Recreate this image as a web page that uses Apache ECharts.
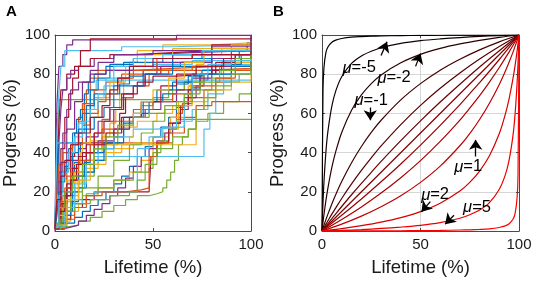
<!DOCTYPE html>
<html><head><meta charset="utf-8">
<script src="https://cdn.jsdelivr.net/npm/echarts@6/dist/echarts.min.js"></script>
<style>html,body{margin:0;padding:0;background:#fff}#c{width:536px;height:282px}</style>
</head><body><div id="c"></div>
<script>
// ---------- Panel A: individual progress curves [lifetime %, progress %] ----------
const B1=[[0,1],[3,2],[6,4],[10,7],[14,10],[18,13],[22,16],[26,20],[30,24],[34,28],[38,33],[42,38],[46,43],[50,48],[54,53],[58,58],[62,63],[66,68],[70,73],[74,77],[78,80],[82,82],[86,85],[90,88],[94,92],[98,96],[100,98]];
const B2=[[0,2],[1,12],[3,25],[5,33],[7,42],[9,50],[11,57],[13,62],[15,70],[17,76],[20,80],[26,84],[35,86],[55,88],[75,90],[90,93],[100,96]];
const B3=[[0,3],[2,10],[5,20],[8,28],[10,35],[13,45],[16,52],[20,58],[25,63],[30,70],[33,75],[38,79],[45,82],[60,84],[80,87],[95,90],[100,92]];
const B4=[[0,1],[2,45],[8,45],[10,50],[14,60],[18,72],[22,78],[28,85],[40,88],[60,90],[80,92],[100,95]];
const B5=[[0,2],[4,8],[8,15],[12,22],[16,30],[20,36],[25,42],[30,48],[35,55],[40,60],[48,66],[55,70],[62,75],[68,79],[75,82],[85,85],[95,88],[100,90]];
const B6=[[0,1],[3,4],[6,10],[9,20],[12,28],[15,35],[18,40],[25,45],[35,58],[45,66],[52,72],[60,76],[70,80],[90,84],[100,86]];
const B7=[[0,1],[1,8],[2,20],[4,30],[6,36],[9,40],[12,52],[16,64],[20,70],[30,74],[45,80],[60,88],[80,92],[100,94]];
const O1=[[0,2],[2,10],[4,18],[6,28],[8,40],[10,50],[12,58],[14,65],[16,72],[18,78],[22,82],[40,83],[60,84],[85,86],[100,88]];
const O2=[[0,1],[3,8],[6,18],[10,28],[15,36],[20,42],[24,45],[56,46],[58,52],[62,60],[65,65],[70,68],[76,72],[82,76],[90,80],[100,84]];
const O3=[[0,3],[4,12],[8,22],[12,30],[16,40],[20,50],[24,57],[28,62],[34,68],[40,74],[48,80],[58,82],[75,83],[100,85]];
const O4=[[0,2],[3,20],[6,32],[9,44],[12,56],[15,65],[20,72],[26,76],[34,80],[45,82],[70,84],[100,90]];
const O5=[[0,1],[5,6],[10,12],[16,18],[24,20],[36,21],[44,22],[48,38],[52,45],[60,50],[66,58],[72,64],[80,66],[100,66]];
const O6=[[0,2],[2,15],[5,22],[8,30],[12,36],[18,44],[24,52],[30,56],[40,62],[50,66],[60,70],[70,74],[82,78],[92,82],[100,86]];
const O7=[[0,2],[1,18],[2,34],[4,40],[8,44],[14,54],[18,60],[22,66],[26,70],[32,78],[40,82],[52,88],[70,90],[100,93]];
const Y1=[[0,4],[4,10],[8,18],[12,26],[16,34],[20,42],[24,48],[28,55],[31,62],[33,70],[35,78],[38,86],[42,92],[55,95],[80,96],[100,98]];
const Y2=[[0,2],[5,15],[10,25],[15,32],[22,38],[30,42],[40,45],[50,48],[58,52],[63,58],[66,66],[69,76],[72,85],[76,90],[85,93],[100,95]];
const Y3=[[0,1],[4,5],[8,10],[12,14],[16,18],[22,22],[30,26],[38,30],[44,36],[50,44],[55,50],[59,58],[63,66],[68,74],[75,80],[85,86],[100,92]];
const Y4=[[0,3],[3,14],[6,26],[9,34],[13,40],[18,46],[25,50],[32,53],[42,56],[52,60],[60,64],[70,66],[78,72],[86,76],[94,80],[100,84]];
const Y5=[[0,2],[4,12],[8,22],[12,30],[16,36],[20,40],[24,44],[70,44],[72,62],[76,68],[82,72],[90,76],[100,80]];
const Y6=[[0,1],[2,8],[5,16],[10,30],[14,45],[18,58],[22,68],[28,76],[36,84],[46,90],[60,93],[100,96]];
const Y7=[[0,3],[6,16],[12,26],[18,34],[26,40],[34,44],[38,48],[40,60],[44,66],[50,72],[58,78],[66,86],[76,92],[90,95],[100,97]];
const P1=[[0,0],[0.5,40],[1,65],[2,84],[4,90],[6,95],[9,97.5],[58,97.5],[62,100],[100,100]];
const P2=[[0,1],[1,20],[2,45],[3,62],[4,72],[6,78],[8,82],[12,84],[20,88],[30,90],[45,91],[70,92],[100,94]];
const P3=[[0,1],[4,2],[8,3],[12,5],[16,8],[20,11],[24,14],[28,18],[32,22],[36,27],[40,33],[44,38],[48,42],[52,46],[56,50],[60,55],[64,62],[68,68],[72,74],[76,80],[80,84],[86,87],[92,90],[100,93]];
const P4=[[0,2],[3,10],[6,22],[9,36],[12,42],[16,48],[22,56],[28,63],[34,70],[40,74],[46,80],[52,86],[60,90],[75,92],[100,95]];
const P5=[[0,1],[2,8],[5,18],[8,26],[12,34],[16,40],[22,46],[30,52],[38,58],[46,62],[54,66],[62,72],[70,78],[80,84],[90,90],[100,93]];
const P6=[[0,3],[2,30],[4,50],[6,62],[8,72],[12,76],[18,80],[26,82],[40,84],[60,86],[80,88],[100,91]];
const P7=[[0,1],[1,15],[3,35],[6,52],[10,66],[14,76],[18,82],[22,86],[30,90],[50,92],[80,94],[100,100]];
const G1=[[0,3],[1,30],[2,67],[56,67],[60,72],[66,76],[74,80],[84,84],[92,88],[100,91]];
const G2=[[0,2],[6,3],[12,5],[18,7],[24,10],[30,13],[36,16],[42,18],[48,19],[52,20],[55,22],[57,26],[59,30],[61,36],[63,44],[65,48],[68,52],[72,56],[78,60],[86,66],[94,70],[100,71]];
const G3=[[0,1],[5,8],[10,14],[16,19],[22,22],[30,26],[40,30],[48,32],[50,40],[54,46],[58,52],[62,57],[100,57]];
const G4=[[0,4],[4,12],[8,20],[14,28],[20,36],[26,44],[32,52],[38,58],[44,64],[50,68],[58,72],[66,76],[76,80],[86,84],[100,88]];
const G5=[[0,2],[4,10],[8,16],[14,22],[22,28],[30,36],[38,44],[44,50],[50,56],[56,62],[62,66],[70,72],[80,78],[90,84],[100,90]];
const G6=[[0,1],[3,6],[6,10],[10,14],[18,16],[28,18],[38,20],[42,26],[46,34],[52,42],[60,48],[68,52],[72,62],[76,68],[82,74],[90,80],[100,86]];
const G7=[[0,2],[2,12],[5,20],[9,28],[14,34],[20,42],[26,48],[32,54],[40,58],[48,60],[56,64],[66,70],[74,76],[84,82],[92,88],[100,92]];
const C1=[[0,5],[1,50],[2,70],[3,84],[5,92],[30,92],[34,94],[60,95],[100,97]];
const C2=[[0,2],[3,12],[6,25],[9,38],[12,50],[15,62],[18,72],[21,77],[100,77]];
const C3=[[0,3],[5,12],[10,22],[15,30],[20,38],[74,38],[76,52],[79,60],[82,72],[86,80],[92,85],[100,88]];
const C4=[[0,2],[4,8],[8,14],[14,18],[20,20],[40,20],[42,42],[48,48],[55,53],[62,56],[70,62],[78,70],[86,76],[94,80],[100,84]];
const C5=[[0,2],[1,45],[10,45],[12,55],[16,62],[20,68],[25,74],[30,78],[38,82],[50,85],[70,87],[100,90]];
const C6=[[0,2],[5,12],[10,24],[16,34],[22,42],[30,48],[40,52],[52,53],[64,53],[66,70],[70,80],[78,85],[90,88],[100,90]];
const C7=[[0,2],[2,18],[4,30],[7,40],[10,48],[14,56],[18,62],[22,70],[26,78],[30,84],[40,88],[55,90],[75,92],[100,95]];
const R1=[[0,2],[1,30],[2,55],[3,72],[6,80],[10,84],[13,92],[18,98],[100,98.5]];
const R2=[[0,2],[2,8],[4,14],[6,22],[8,38],[10,45],[26,45],[30,52],[33,60],[36,68],[40,74],[46,80],[54,84],[64,86],[80,88],[100,92]];
const R3=[[0,1],[4,6],[8,12],[14,16],[20,20],[48,20],[49,38],[52,45],[58,55],[64,64],[68,72],[74,80],[82,86],[92,90],[100,95]];
const R4=[[0,3],[1,25],[3,42],[5,58],[7,70],[9,78],[12,84],[18,88],[28,90],[40,91],[60,92],[80,95],[100,100]];
const R5=[[0,2],[3,14],[6,24],[9,32],[12,38],[16,44],[20,50],[25,56],[30,62],[35,70],[42,76],[50,79],[62,80],[80,82],[100,86]];
const R6=[[0,1],[2,10],[5,18],[8,26],[11,34],[14,40],[20,44],[26,50],[34,58],[44,66],[54,74],[62,80],[72,84],[86,88],[100,92]];
const R7=[[0,1],[1,16],[3,28],[5,36],[8,44],[12,50],[18,58],[24,64],[28,72],[32,78],[38,84],[50,88],[70,90],[100,96]];

// ---------- Panel B: model curves ----------
const xUpper=[0,0.5,1,2,3,5,7,10,15,20,25,30,40,50,60,70,80,90,100];
const xLower=[0,10,20,30,40,50,60,70,75,80,85,90,93,95,97,98,99,99.5,100];
const xDiag=[0,100];
const yB01=[0,71.5,83.5,91.1,93.9,96.3,97.4,98.2,98.9,99.2,99.4,99.5,99.7,99.8,99.87,99.91,99.95,99.98,100];
const yB02=[0,14.3,25.2,40.5,50.8,63.7,71.5,78.7,85.5,89.3,91.7,93.5,95.7,97.1,98.0,98.7,99.3,99.7,100]; // mu=-5
const yB03=[0,4.4,8.4,15.6,21.9,32.4,40.6,50.3,61.6,69.4,75.2,79.6,85.8,90.1,93.2,95.5,97.3,98.8,100]; // mu=-2
const yB04=[0,1.5,3.0,5.8,8.6,13.8,18.6,25.2,34.8,43.1,50.3,56.5,66.9,75.2,82.0,87.6,92.4,96.5,100]; // mu=-1
const yB05=[0,0.9,1.8,3.5,5.2,8.6,11.8,16.6,24.0,30.9,37.3,43.4,54.3,64.1,72.8,80.6,87.7,94.1,100];
const yB06=[0,0.6,1.3,2.5,3.8,6.3,8.8,12.5,18.5,24.3,29.9,35.5,46.1,56.2,65.8,74.9,83.7,92.0,100];
const yB07=[0,100];
const yB08=[0,8.0,16.3,25.1,34.2,43.8,53.9,64.5,70.1,75.7,81.5,87.5,91.2,93.7,96.2,97.5,98.7,99.4,100];
const yB09=[0,5.9,12.3,19.4,27.2,35.9,45.7,56.6,62.7,69.1,76.0,83.4,88.2,91.4,94.8,96.5,98.2,99.1,100];
const yB10=[0,3.5,7.6,12.4,18.0,24.8,33.1,43.5,49.7,56.9,65.2,74.8,81.4,86.2,91.4,94.2,97.0,98.5,100]; // mu=1
const yB11=[0,1.2,2.7,4.5,6.8,9.9,14.2,20.4,24.8,30.6,38.4,49.7,59.4,67.6,78.1,84.4,91.6,95.6,100]; // mu=2
const yB12=[0,0.3,0.7,1.3,2.0,2.9,4.3,6.5,8.3,10.7,14.5,21.3,28.5,36.3,49.2,59.5,74.8,85.7,100]; // mu=5
const yB13=[0,0.02,0.05,0.09,0.13,0.2,0.3,0.5,0.6,0.8,1.1,1.8,2.6,3.7,6.1,8.9,16.5,28.5,100];

// annotation arrows [tailX, tailY, headX, headY] and labels [mu text, x, y]
const arrowsB=[[30,89.5,33,96.5],[47.5,84,50,90.5],[24.5,63,24.5,56.5],[78,38,78,46.5],[55,15,50.5,9.8],[67,8,62.5,3.5]];
const labelsB=[['-5',18.9,83.2],['-2',36.6,78.1],['-1',25,66.8],['1',74.2,32.7],['2',57.4,18.4],['5',78.7,12.2]];

const xTicks=[0,50,100];
const yTicks=[0,20,40,60,80,100];

// ---------- build ----------
const curvesA=[B1,O1,Y1,P1,G1,C1,R1,B2,O2,Y2,P2,G2,C2,R2,B3,O3,Y3,P3,G3,C3,R3,B4,O4,Y4,P4,G4,C4,R4,B5,O5,Y5,P5,G5,C5,R5,B6,O6,Y6,P6,G6,C6,R6,B7,O7,Y7,P7,G7,C7,R7];
const colorsA=['#0072BD','#D95319','#EDB120','#7E2F8E','#77AC30','#4DBEEE','#A2142F'];
const curvesB=[[xUpper,yB01],[xUpper,yB02],[xUpper,yB03],[xUpper,yB04],[xUpper,yB05],[xUpper,yB06],[xDiag,yB07],[xLower,yB08],[xLower,yB09],[xLower,yB10],[xLower,yB11],[xLower,yB12],[xLower,yB13]];

const FONT='"Liberation Sans", Arial, sans-serif';
const axisCol='#4a4a4a';
function xAx(grid,pos,main){
  return {type:'value',gridIndex:grid,position:pos,min:0,max:100,interval:50,
    axisLine:{show:true,onZero:false,lineStyle:{color:axisCol,width:1}},
    axisTick:{show:true,inside:true,length:3,lineStyle:{color:axisCol}},
    axisLabel:{show:main,margin:6,color:'#1a1a1a',fontSize:15,fontFamily:FONT,
      formatter:v=>xTicks.includes(v)?String(v):''},
    splitLine:{show:(main&&grid===1),lineStyle:{color:'#d6d6d6',width:1}},
    name:main?'Lifetime (%)':'',nameLocation:'middle',nameGap:27,
    nameTextStyle:{fontSize:18.5,color:'#1a1a1a',fontFamily:FONT}};
}
function yAx(grid,pos,main){
  return {type:'value',gridIndex:grid,position:pos,min:0,max:100,interval:20,
    axisLine:{show:true,onZero:false,lineStyle:{color:axisCol,width:1}},
    axisTick:{show:true,inside:true,length:3,lineStyle:{color:axisCol}},
    axisLabel:{show:main,margin:5,color:'#1a1a1a',fontSize:15,fontFamily:FONT,
      formatter:v=>yTicks.includes(v)?String(v):''},
    splitLine:{show:(main&&grid===1),lineStyle:{color:'#d6d6d6',width:1}},
    name:main?'Progress (%)':'',nameLocation:'middle',nameGap:35,
    nameTextStyle:{fontSize:18.5,color:'#1a1a1a',fontFamily:FONT}};
}
const series=[];
curvesA.forEach((d,i)=>{
  series.push({type:'line',xAxisIndex:0,yAxisIndex:0,data:d,step:'end',showSymbol:false,
    lineStyle:{width:1.2,color:colorsA[i%7]},silent:true});
});
curvesB.forEach((c,i)=>{
  const r=Math.round(255*i/(curvesB.length-1));
  series.push({type:'line',xAxisIndex:2,yAxisIndex:2,data:c[0].map((x,j)=>[x,c[1][j]]),
    showSymbol:false,smooth:0.3,lineStyle:{width:1.2,color:`rgb(${r},0,0)`},silent:true});
});
series.push({type:'line',xAxisIndex:2,yAxisIndex:2,data:[],silent:true,
  markLine:{silent:true,symbol:['none','arrow'],symbolSize:10,animation:false,
    lineStyle:{color:'#000',width:1.3,type:'solid'},label:{show:false},
    data:arrowsB.map(a=>[{coord:[a[0],a[1]]},{coord:[a[2],a[3]]}])},
  markPoint:{silent:true,symbol:'circle',symbolSize:0,animation:false,
    label:{show:true,position:'inside',formatter:p=>'{i|μ}{n|='+p.name+'}',
      rich:{i:{fontStyle:'italic',fontSize:16.5,fontFamily:FONT,color:'#000'},
            n:{fontSize:16.5,fontFamily:FONT,color:'#000'}}},
    data:labelsB.map(l=>({name:l[0],coord:[l[1],l[2]]}))}
});

const chart=echarts.init(document.getElementById('c'),null,{renderer:'canvas'});
chart.setOption({
  animation:false,
  title:[{text:'A',left:6,top:4,padding:0,textStyle:{fontSize:15,fontWeight:'bold',fontFamily:FONT,color:'#000'}},
         {text:'B',left:273,top:4,padding:0,textStyle:{fontSize:15,fontWeight:'bold',fontFamily:FONT,color:'#000'}}],
  grid:[{left:55,top:35,width:196,height:196},{left:322,top:35,width:197,height:196}],
  xAxis:[xAx(0,'bottom',true),xAx(0,'top',false),xAx(1,'bottom',true),xAx(1,'top',false)],
  yAxis:[yAx(0,'left',true),yAx(0,'right',false),yAx(1,'left',true),yAx(1,'right',false)],
  series:series
});
</script></body></html>
